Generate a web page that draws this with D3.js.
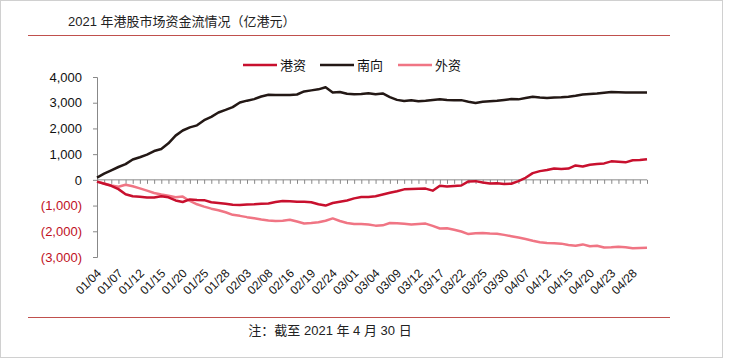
<!DOCTYPE html>
<html><head><meta charset="utf-8">
<script src="https://cdn.jsdelivr.net/npm/d3@7"></script>
<style>
body{margin:0;background:#fff;}
svg text{font-family:"Liberation Sans",Arial,"Noto Sans CJK SC",sans-serif;}
</style></head>
<body><svg id="c" width="729" height="359"></svg>
<script>
const dates = ["01/04","01/05","01/06","01/07","01/08","01/11","01/12","01/13","01/14","01/15","01/18","01/19","01/20","01/21","01/22","01/25","01/26","01/27","01/28","01/29","02/01","02/03","02/04","02/05","02/08","02/09","02/10","02/16","02/17","02/18","02/19","02/22","02/23","02/24","02/25","02/26","03/01","03/02","03/03","03/04","03/05","03/08","03/09","03/10","03/11","03/12","03/15","03/16","03/17","03/18","03/19","03/22","03/23","03/24","03/25","03/26","03/29","03/30","03/31","04/01","04/07","04/08","04/09","04/12","04/13","04/14","04/15","04/16","04/19","04/20","04/21","04/22","04/23","04/26","04/27","04/28","04/29","04/30"];
const hkCapital = [-70,-150,-230,-360,-560,-640,-660,-690,-690,-640,-680,-800,-860,-760,-780,-790,-870,-900,-930,-970,-980,-960,-950,-930,-920,-860,-820,-830,-850,-850,-870,-950,-1000,-900,-850,-800,-720,-670,-670,-640,-570,-500,-440,-370,-360,-350,-340,-420,-230,-260,-240,-220,-60,-50,-100,-140,-130,-160,-150,-50,80,260,340,380,440,420,440,560,520,590,620,640,720,700,680,760,770,800];
const southbound = [90,240,370,500,610,790,880,980,1120,1200,1420,1720,1920,2040,2120,2320,2450,2620,2720,2830,3010,3080,3140,3240,3310,3300,3300,3300,3320,3440,3480,3520,3600,3400,3420,3350,3330,3340,3370,3330,3360,3220,3110,3070,3100,3060,3080,3110,3130,3110,3100,3100,3040,2990,3040,3060,3080,3110,3140,3130,3180,3230,3200,3180,3200,3210,3230,3270,3320,3340,3360,3390,3420,3410,3400,3400,3400,3400];
const foreign = [-70,-140,-220,-270,-190,-250,-330,-420,-510,-570,-620,-680,-650,-820,-950,-1040,-1120,-1180,-1260,-1360,-1400,-1450,-1490,-1540,-1580,-1600,-1590,-1550,-1620,-1700,-1680,-1650,-1590,-1500,-1600,-1680,-1720,-1720,-1740,-1780,-1770,-1680,-1690,-1710,-1740,-1720,-1700,-1790,-1890,-1880,-1940,-2010,-2110,-2080,-2070,-2090,-2100,-2140,-2190,-2240,-2300,-2370,-2430,-2460,-2470,-2480,-2530,-2560,-2510,-2580,-2560,-2630,-2620,-2600,-2620,-2660,-2650,-2640];
const yTicks = [-3000,-2000,-1000,0,1000,2000,3000,4000];
const seriesNames = ["港资","南向","外资"];
const seriesColors = ["#c8102e","#231815","#f07584"];
const title = "2021 年港股市场资金流情况（亿港元）";
const note = "注：截至 2021 年 4 月 30 日";

const svg = d3.select("#c");
// frame
svg.append("rect").attr("x",0.5).attr("y",0.5).attr("width",722).attr("height",357)
  .attr("fill","#fff").attr("stroke","#d0d0d0");
// title
svg.append("text").attr("x",68).attr("y",26).attr("font-size",13).attr("fill","#222").text(title);
svg.append("line").attr("x1",28).attr("x2",670).attr("y1",35.5).attr("y2",35.5).attr("stroke","#c0504d").attr("stroke-width",1);
svg.append("line").attr("x1",28).attr("x2",670).attr("y1",317.5).attr("y2",317.5).attr("stroke","#c0504d").attr("stroke-width",1);
svg.append("text").attr("x",330).attr("y",335).attr("text-anchor","middle").attr("font-size",13).attr("fill","#222").text(note);

const x = d3.scalePoint().domain(dates).range([97,647]);
const y = d3.scaleLinear().domain([-3000,4000]).range([257,77]);

// y axis
const ya = svg.append("g").attr("transform","translate(97,0)")
  .call(d3.axisLeft(y).tickValues(yTicks).tickSize(4).tickPadding(11)
    .tickFormat(d => d < 0 ? "(" + d3.format(",")(-d) + ")" : d3.format(",")(d)));
ya.select(".domain").attr("stroke","#888");
ya.selectAll(".tick line").attr("stroke","#888");
ya.selectAll(".tick text").attr("font-size",13).attr("font-family",null)
  .attr("fill", d => d < 0 ? "#c0101e" : "#111");

// x axis at zero
const xa = svg.append("g").attr("transform",`translate(0,${y(0)})`)
  .call(d3.axisBottom(x).tickSize(4).tickFormat(""));
xa.select(".domain").attr("stroke","#888").attr("d",`M97,0H647`);
xa.selectAll(".tick line").attr("stroke","#888");

// x labels at bottom
svg.append("g").selectAll("text").data(dates.filter((d,i)=>i%3===0)).join("text")
  .attr("transform", d => `translate(${x(d)+5},274) rotate(-45)`)
  .attr("text-anchor","end").attr("font-size",12).attr("fill","#111").text(d=>d);

// lines
const all = [hkCapital, southbound, foreign];
const line = d3.line().x((d,i)=>x(dates[i])).y(d=>y(d));
[2,0,1].forEach(k=>{
  svg.append("path").datum(all[k]).attr("d",line).attr("fill","none")
    .attr("stroke",seriesColors[k]).attr("stroke-width",2.5).attr("stroke-linejoin","round");
});

// legend
const lx = [243,320,398];
seriesNames.forEach((n,k)=>{
  svg.append("line").attr("x1",lx[k]).attr("x2",lx[k]+34).attr("y1",65).attr("y2",65)
    .attr("stroke",seriesColors[k]).attr("stroke-width",2.5);
  svg.append("text").attr("x",lx[k]+37).attr("y",70).attr("font-size",13).attr("fill","#111").text(n);
});
</script></body></html>
